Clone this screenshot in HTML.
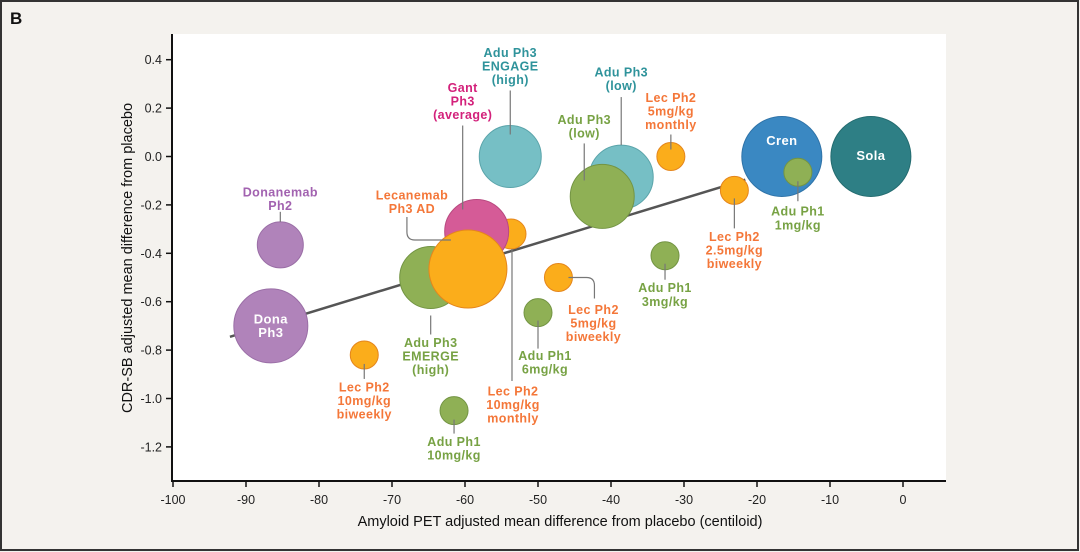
<!DOCTYPE html>
<html><head><meta charset="utf-8"><style>
html,body{margin:0;padding:0;background:#f4f2ee;}
svg{display:block;font-family:"Liberation Sans",Arial,sans-serif;}
</style></head><body>
<svg width="1080" height="552" viewBox="0 0 1080 552">
<rect x="1" y="1" width="1077" height="549" fill="#f4f2ee" stroke="#333" stroke-width="2"/>
<text x="10" y="24" font-size="17" font-weight="bold" fill="#111">B</text>
<rect x="172" y="34" width="774" height="447" fill="#fff"/>
<g id="grid"></g>
<g id="marks"></g>
<text x="560" y="526" font-size="14.5" text-anchor="middle" fill="#111">Amyloid PET adjusted mean difference from placebo (centiloid)</text>
<text transform="translate(132,258) rotate(-90)" font-size="14.5" text-anchor="middle" fill="#111">CDR-SB adjusted mean difference from placebo</text>
</svg>
<script>
const names=["Dona Ph3","Donanemab Ph2","Lec Ph2 10mg/kg monthly","Gant Ph3","Adu Ph3 EMERGE high","Lecanemab Ph3 AD","Adu Ph3 ENGAGE high","Adu Ph3 low teal","Adu Ph3 low green","Lec Ph2 5mg/kg monthly","Adu Ph1 3mg/kg","Lec Ph2 5mg/kg biweekly","Adu Ph1 6mg/kg","Lec Ph2 10mg/kg biweekly","Adu Ph1 10mg/kg","Cren","Adu Ph1 1mg/kg","Sola","Lec Ph2 2.5mg/kg biweekly"];
const xVals=[-86.6,-85.3,-53.7,-58.4,-64.7,-59.6,-53.8,-38.6,-41.2,-31.8,-32.6,-47.2,-50.0,-73.8,-61.5,-16.6,-14.4,-4.4,-23.1];
const yVals=[-0.70,-0.365,-0.32,-0.31,-0.50,-0.465,0.0,-0.085,-0.165,0.0,-0.41,-0.50,-0.645,-0.82,-1.05,0.0,-0.065,0.0,-0.14];
const sizes=[37,23,15,32,31,39,31,32,32,14,14,14,14,14,14,40,14,40,14];
const groups=["dona","dona","lec","gant","adug","lec","aduteal","aduteal","adug","lec","adug","lec","adug","lec","adug","cren","adug","sola","lec"];
const xTicks=[-100,-90,-80,-70,-60,-50,-40,-30,-20,-10,0];
const yTicks=[0.4,0.2,0.0,-0.2,-0.4,-0.6,-0.8,-1.0,-1.2];
const yTickLabels=["0.4","0.2","0.0","-0.2","-0.4","-0.6","-0.8","-1.0","-1.2"];
const fitX=[-92.2,-21.6];
const fitSlope=0.0092, fitIntercept=0.103;

const X=v=>903+7.3*v, Y=v=>156.5-242*v;
const fills={dona:"#b083ba",gant:"#d55b97",lec:"#fbad1b",adug:"#8fb055",aduteal:"#76bfc5",cren:"#3a88c2",sola:"#2e7f85"};
const strokes={dona:"#9a6ea6",gant:"#b84a80",lec:"#e5861c",adug:"#739443",aduteal:"#5aa4aa",cren:"#2f73a8",sola:"#246c70"};
const txt={dona:"#a262b0",gant:"#d3217b",lec:"#f47739",adug:"#77a244",aduteal:"#2f939b"};
const labels=[
 {l:["Dona","Ph3"],dx:0,dy:-7,w:1},
 {l:["Donanemab","Ph2"],dx:0,dy:-53,p:[[0,-33],[0,-23]]},
 {l:["Lec Ph2","10mg/kg","monthly"],dx:2,dy:157,p:[[1,15],[1,147]]},
 {l:["Gant","Ph3","(average)"],dx:-14,dy:-144,p:[[-14,-106],[-14,-22]]},
 {l:["Adu Ph3","EMERGE","(high)"],dx:0,dy:65,p:[[0,38],[0,57]]},
 {l:["Lecanemab","Ph3 AD"],dx:-56,dy:-74,c:"M-61,-52 L-61,-37 Q-61,-29 -53,-29 L-17,-29"},
 {l:["Adu Ph3","ENGAGE","(high)"],dx:0,dy:-104,p:[[0,-66],[0,-22]]},
 {l:["Adu Ph3","(low)"],dx:0,dy:-105,p:[[0,-80],[0,-32]]},
 {l:["Adu Ph3","(low)"],dx:-18,dy:-77,p:[[-18,-53],[-18,-16]]},
 {l:["Lec Ph2","5mg/kg","monthly"],dx:0,dy:-59,p:[[0,-22],[0,-7]]},
 {l:["Adu Ph1","3mg/kg"],dx:0,dy:32,p:[[0,8],[0,24]]},
 {l:["Lec Ph2","5mg/kg","biweekly"],dx:35,dy:32,c:"M10,0 L28,0 Q36,0 36,8 L36,21"},
 {l:["Adu Ph1","6mg/kg"],dx:7,dy:43,p:[[0,8],[0,36]]},
 {l:["Lec Ph2","10mg/kg","biweekly"],dx:0,dy:32,p:[[0,9],[0,24]]},
 {l:["Adu Ph1","10mg/kg"],dx:0,dy:31,p:[[0,9],[0,23]]},
 {l:["Cren"],dx:0,dy:-16,w:1},
 {l:["Adu Ph1","1mg/kg"],dx:0,dy:39,p:[[0,9],[0,29]]},
 {l:["Sola"],dx:0,dy:-1,w:1},
 {l:["Lec Ph2","2.5mg/kg","biweekly"],dx:0,dy:46,p:[[0,8],[0,38]]}
];
const NS="http://www.w3.org/2000/svg";
function mk(t,a,parent){const e=document.createElementNS(NS,t);for(const k in a)e.setAttribute(k,a[k]);parent.appendChild(e);return e;}
const g=document.getElementById("grid"), m=document.getElementById("marks");
let ax=mk("line",{x1:172,y1:34,x2:172,y2:482,stroke:"#111","stroke-width":2},g);


ax=mk("line",{x1:171,y1:481,x2:946,y2:481,stroke:"#111","stroke-width":2},g);


xTicks.forEach(v=>{
 const tk=mk("line",{x1:X(v),y1:481,x2:X(v),y2:487,stroke:"#111","stroke-width":1.5},g);
 
 
 const t=mk("text",{x:X(v),y:504,"font-size":12.5,"text-anchor":"middle",fill:"#222"},g);
 t.textContent=String(v);
 
 
});
yTicks.forEach((v,i)=>{
 const tk=mk("line",{x1:166,y1:Y(v),x2:172,y2:Y(v),stroke:"#111","stroke-width":1.5},g);
 
 
 const t=mk("text",{x:162,y:Y(v)+4.5,"font-size":12.5,"text-anchor":"end",fill:"#222"},g);
 t.textContent=yTickLabels[i];
 
 
});
const fl=mk("line",{x1:X(fitX[0]),y1:Y(fitIntercept+fitSlope*fitX[0]),x2:X(fitX[1]),y2:Y(fitIntercept+fitSlope*fitX[1]),stroke:"#555","stroke-width":2.5},m);


xVals.forEach((v,i)=>{
 const c=mk("circle",{cx:X(v),cy:Y(yVals[i]),r:sizes[i],fill:fills[groups[i]],stroke:strokes[groups[i]],"stroke-width":1},m);
 
 
});
xVals.forEach((v,i)=>{
 const cx=X(v), cy=Y(yVals[i]), L=labels[i];
 if(L.p){const ln=mk("line",{x1:cx+L.p[0][0],y1:cy+L.p[0][1],x2:cx+L.p[1][0],y2:cy+L.p[1][1],stroke:"#777","stroke-width":1.2},m);
  
  }
 if(L.c){const pth=mk("path",{d:L.c,transform:`translate(${cx},${cy})`,fill:"none",stroke:"#777","stroke-width":1.2},m);
  
  }
 const col=L.w?"#fff":txt[groups[i]];
 const t=mk("text",{x:cx+L.dx,y:cy+L.dy,"font-size":L.w?13:12.5,"font-weight":"bold","text-anchor":"middle","letter-spacing":"0.4",fill:col},m);
 
 
 L.l.forEach((s,k)=>{const ts=mk("tspan",{x:cx+L.dx,y:cy+L.dy+k*13.6+4.5},t);ts.textContent=s;});
});
</script>
</body></html>
